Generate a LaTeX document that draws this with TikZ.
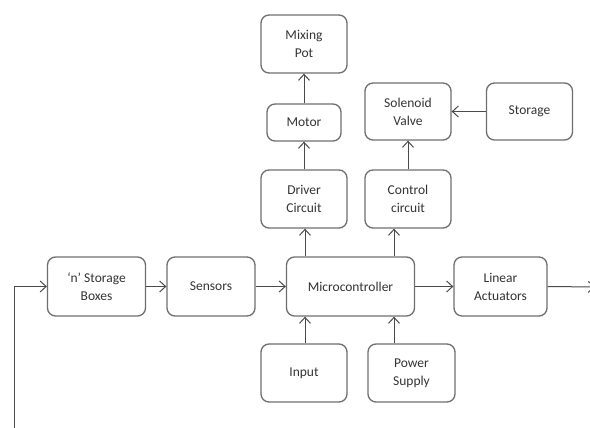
\documentclass[tikz,border=0pt]{standalone}
\usepackage{fontspec}
\setmainfont{Carlito}
\usetikzlibrary{arrows.meta}
\definecolor{boxline}{HTML}{6E6E6E}
\definecolor{arrline}{HTML}{4A4A4A}
\definecolor{txt}{HTML}{333333}
\begin{document}
\begin{tikzpicture}[x=1pt,y=-1pt,
  blk/.style={draw=boxline, line width=1.3pt, rounded corners=8pt, align=center,
    font=\fontsize{13.5}{18}\selectfont, text=txt, inner sep=0pt},
  arr/.style={draw=arrline, line width=1pt, -{Straight Barb[length=6pt,width=11pt,line width=1pt]}}]
\useasboundingbox (0,0) rectangle (590,428);
\node[blk, minimum width=86pt, minimum height=58pt] (mix) at (304,44) {Mixing\\Pot};
\node[blk, minimum width=74pt, minimum height=37pt] (motor) at (304,122.5) {Motor};
\node[blk, minimum width=86pt, minimum height=58pt] (driver) at (304,199) {Driver\\Circuit};
\node[blk, minimum width=86pt, minimum height=57pt] (sol) at (408,111.5) {Solenoid\\Valve};
\node[blk, minimum width=86pt, minimum height=57pt] (stor) at (529.5,111.5) {Storage};
\node[blk, minimum width=86pt, minimum height=58pt] (ctrl) at (408,199) {Control\\circuit};
\node[blk, minimum width=98pt, minimum height=59pt] (boxes) at (96.5,286.5) {‘n’ Storage\\Boxes};
\node[blk, minimum width=88pt, minimum height=59pt] (sens) at (211,286.5) {Sensors};
\node[blk, minimum width=128pt, minimum height=59pt] (mcu) at (350.5,286.5) {Microcontroller};
\node[blk, minimum width=93pt, minimum height=59pt] (lin) at (500.5,286.5) {Linear\\Actuators};
\node[blk, minimum width=86pt, minimum height=58pt] (inp) at (304,373) {Input};
\node[blk, minimum width=87pt, minimum height=58pt] (pow) at (411.5,373) {Power\\Supply};
\coordinate (loopstart) at (14,428);
\coordinate (out) at (595,287);
% connectors
\draw[arr] (motor.north) -- (mix.south);
\draw[arr] (driver.north) -- (motor.south);
\draw[arr] (ctrl.north) -- (sol.south);
\draw[arr] (stor.west) -- (sol.east);
\draw[arr] (mcu.north -| 305,0) -- (driver.south -| 305,0);
\draw[arr] (mcu.north -| 394,0) -- (ctrl.south -| 394,0);
\draw[arr] (inp.north -| 305,0) -- (mcu.south -| 305,0);
\draw[arr] (pow.north -| 394,0) -- (mcu.south -| 394,0);
\draw[arr] (boxes.east) -- (sens.west);
\draw[arr] (sens.east) -- (mcu.west);
\draw[arr] (mcu.east) -- (lin.west);
\draw[arr] (lin.east) -- (out);
\draw[arr] (loopstart) -- (loopstart |- boxes.west) -- (boxes.west);
\end{tikzpicture}
\end{document}
